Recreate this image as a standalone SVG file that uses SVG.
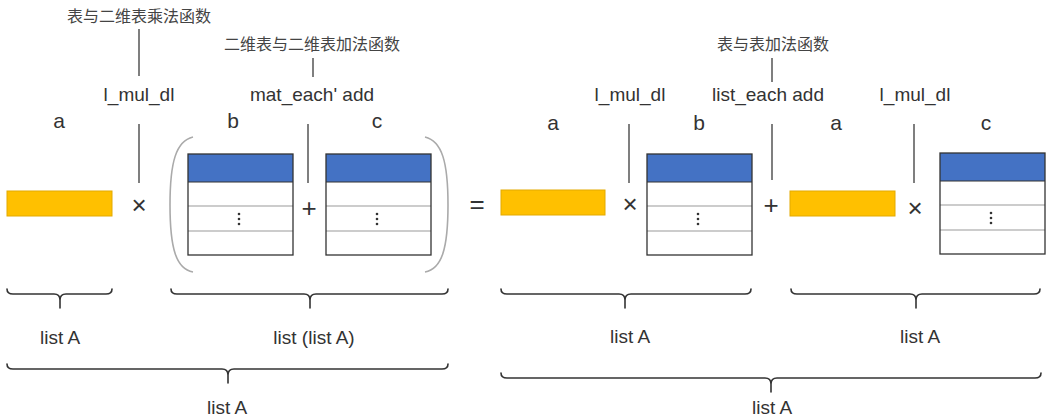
<svg xmlns="http://www.w3.org/2000/svg" width="1047" height="419" viewBox="0 0 1047 419">
  <style>
    .lbl { font-family: "Liberation Sans", Arial, sans-serif; font-size: 19px; fill: #333; text-anchor: middle; }
    .var { font-family: "Liberation Sans", Arial, sans-serif; font-size: 21px; fill: #333; text-anchor: middle; }
    .op  { font-family: "Liberation Sans", Arial, sans-serif; font-size: 26px; fill: #333; text-anchor: middle; }
    .cjk { font-family: "Noto Sans CJK SC", "Liberation Sans", sans-serif; font-size: 16px; fill: #444; text-anchor: middle; }
    .tick { stroke: #555; stroke-width: 1.5; fill: none; }
    .brace { stroke: #333; stroke-width: 1.6; fill: none; stroke-linecap: round; }
    .paren { stroke: #aaa; stroke-width: 1.6; fill: none; }
    .vec { fill: #FFC000; stroke: #E3AA00; stroke-width: 1; }
    .head { fill: #4472C4; }
    .frame { fill: none; stroke: #333; stroke-width: 1.3; }
    .row { stroke: #999; stroke-width: 1.2; }
    .dot { fill: #333; }
  </style>
  <defs>
    <!-- a column table: blue header, three rows, vertical ellipsis in the middle row -->
    <g id="table">
      <rect x="0" y="0" width="105" height="101" fill="#fff"/>
      <rect class="head" x="0" y="0" width="105" height="28"/>
      <line class="row" x1="0" y1="52" x2="105" y2="52"/>
      <line class="row" x1="0" y1="77" x2="105" y2="77"/>
      <line x1="0" y1="28" x2="105" y2="28" stroke="#333" stroke-width="1"/>
      <circle class="dot" cx="51" cy="60" r="1.3"/>
      <circle class="dot" cx="51" cy="65" r="1.3"/>
      <circle class="dot" cx="51" cy="70" r="1.3"/>
      <rect class="frame" x="0" y="0" width="105" height="101"/>
    </g>
  </defs>

  <rect width="1047" height="419" fill="#fff"/>

  <!-- call-out ticks linking function names and operators -->
  <g id="connectors">
    <line class="tick" x1="139" y1="29" x2="139" y2="76"/>
    <line class="tick" x1="139" y1="124" x2="139" y2="183"/>
    <line class="tick" x1="313" y1="58" x2="313" y2="77"/>
    <line class="tick" x1="308" y1="124" x2="308" y2="183"/>
    <line class="tick" x1="629" y1="124" x2="629" y2="183"/>
    <line class="tick" x1="772" y1="58" x2="772" y2="82"/>
    <line class="tick" x1="772" y1="124" x2="772" y2="180"/>
    <line class="tick" x1="914" y1="124" x2="914" y2="183"/>
  </g>

  <!-- left-hand side -->
  <g id="fn-mul-left">
    <text class="cjk" x="139" y="22">表与二维表乘法函数</text>
    <text class="lbl" x="139" y="101">l_mul_dl</text>
  </g>
  <g id="fn-mat-add">
    <text class="cjk" x="312" y="50">二维表与二维表加法函数</text>
    <text class="lbl" x="312" y="101">mat_each' add</text>
  </g>
  <g id="vec-a-left">
    <text class="var" x="59" y="128">a</text>
    <rect class="vec" x="7" y="191" width="105" height="25"/>
  </g>
  <g id="op-times-1"><text class="op" x="139" y="214">×</text></g>
  <g id="paren-group">
    <path class="paren" d="M193,137 C176,141 170,162 170,205 C170,248 176,269 193,272"/>
    <path class="paren" d="M425,137 C442,141 448,162 448,205 C448,248 442,269 425,272"/>
  </g>
  <g id="table-b-left">
    <text class="var" x="233" y="128">b</text>
    <use href="#table" x="188" y="154"/>
  </g>
  <g id="op-plus-1"><text class="op" x="309" y="217">+</text></g>
  <g id="table-c-left">
    <text class="var" x="377" y="128">c</text>
    <use href="#table" x="326" y="154"/>
  </g>

  <g id="op-equals"><text class="op" x="477" y="213">=</text></g>

  <!-- right-hand side -->
  <g id="fn-mul-right-1">
    <text class="lbl" x="630" y="101">l_mul_dl</text>
  </g>
  <g id="fn-list-add">
    <text class="cjk" x="773" y="50">表与表加法函数</text>
    <text class="lbl" x="768" y="101">list_each add</text>
  </g>
  <g id="fn-mul-right-2">
    <text class="lbl" x="915" y="101">l_mul_dl</text>
  </g>
  <g id="vec-a-right-1">
    <text class="var" x="553" y="130">a</text>
    <rect class="vec" x="501" y="190" width="104" height="25"/>
  </g>
  <g id="op-times-2"><text class="op" x="630" y="213">×</text></g>
  <g id="table-b-right">
    <text class="var" x="699" y="130">b</text>
    <use href="#table" x="647" y="154"/>
  </g>
  <g id="op-plus-2"><text class="op" x="771" y="214">+</text></g>
  <g id="vec-a-right-2">
    <text class="var" x="836" y="130">a</text>
    <rect class="vec" x="790" y="191" width="105" height="25"/>
  </g>
  <g id="op-times-3"><text class="op" x="915" y="217">×</text></g>
  <g id="table-c-right">
    <text class="var" x="986" y="130">c</text>
    <use href="#table" x="940" y="153"/>
  </g>

  <!-- type braces -->
  <g id="brace-a-left">
    <path class="brace" d="M7,289 Q7,294 13,294 H54 Q60,294 60,300 V308 M60,300 Q60,294 66,294 H106 Q112,294 112,289"/>
    <text class="lbl" x="60" y="344">list A</text>
  </g>
  <g id="brace-listlist">
    <path class="brace" d="M171,289 Q171,294 177,294 H304 Q310,294 310,300 V308 M310,300 Q310,294 316,294 H442 Q448,294 448,289"/>
    <text class="lbl" x="314" y="344">list (list A)</text>
  </g>
  <g id="brace-lhs">
    <path class="brace" d="M7,364 Q7,369 13,369 H222 Q228,369 228,375 V383 M228,375 Q228,369 234,369 H442 Q448,369 448,364"/>
    <text class="lbl" x="227" y="414">list A</text>
  </g>
  <g id="brace-term-1">
    <path class="brace" d="M501,289 Q501,294 507,294 H619 Q625,294 625,300 V308 M625,300 Q625,294 631,294 H745 Q751,294 751,289"/>
    <text class="lbl" x="630" y="343">list A</text>
  </g>
  <g id="brace-term-2">
    <path class="brace" d="M791,289 Q791,294 797,294 H910 Q916,294 916,300 V308 M916,300 Q916,294 922,294 H1034 Q1040,294 1040,289"/>
    <text class="lbl" x="920" y="343">list A</text>
  </g>
  <g id="brace-rhs">
    <path class="brace" d="M501,373 Q501,378 507,378 H765 Q771,378 771,384 V392 M771,384 Q771,378 777,378 H1035 Q1041,378 1041,373"/>
    <text class="lbl" x="772" y="414">list A</text>
  </g>
</svg>
